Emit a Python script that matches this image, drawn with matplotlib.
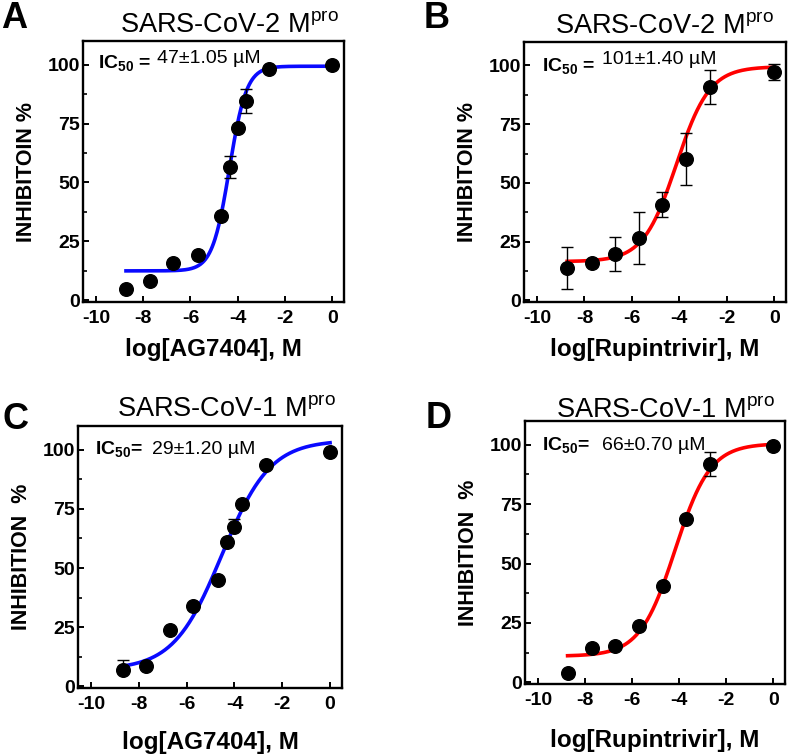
import numpy as np
import matplotlib
matplotlib.use('Agg')
import matplotlib.pyplot as plt
from matplotlib.ticker import MultipleLocator

plt.rcParams['font.family'] = ['Liberation Sans', 'DejaVu Sans']
plt.rcParams['mathtext.default'] = 'regular'
plt.rcParams['axes.unicode_minus'] = False

# --------------------------------------------------
# Data (log concentration, % inhibition, SD)
# --------------------------------------------------
ag_logc_cov2 = [-8.73, -7.71, -6.72, -5.69, -4.70, -4.31, -4.00, -3.67, -2.68, 0.0]
ag_inh_cov2 = [5.0, 8.1, 16.0, 19.4, 35.7, 56.5, 73.0, 84.7, 98.3, 99.7]
ag_err_cov2 = [0, 0, 0, 0, 0, 4.6, 0, 5.1, 0, 0]

rup_logc_cov2 = [-8.73, -7.69, -6.73, -5.68, -4.72, -3.70, -2.70, 0.0]
rup_inh_cov2 = [13.9, 16.0, 19.9, 26.6, 40.7, 60.1, 90.9, 97.3]
rup_err_cov2 = [9.0, 0, 7.2, 11.0, 5.3, 11.1, 7.2, 3.3]

ag_logc_cov1 = [-8.68, -7.72, -6.70, -5.72, -4.70, -4.31, -4.00, -3.69, -2.67, 0.0]
ag_inh_cov1 = [6.8, 8.7, 23.7, 34.1, 45.1, 60.8, 67.3, 77.2, 93.7, 98.9]
ag_err_cov1_up = [4.5, 0, 0, 0, 0, 0, 3.5, 0, 0, 0]

rup_logc_cov1 = [-8.74, -7.70, -6.71, -5.69, -4.70, -3.69, -2.67, 0.0]
rup_inh_cov1 = [3.8, 14.4, 15.5, 23.7, 40.6, 68.6, 92.0, 99.3]
rup_err_cov1 = [0, 0, 0, 0, 0, 0, 5.0, 0]

# 4PL fit parameters (bottom, top, logIC50, hill) estimated from the curves
fit_a = (12.5, 99.3, -4.35, 1.2)
fit_b = (16.5, 99.5, -4.12, 0.62)
fit_c = (7.0, 104.0, -4.53, 0.43)
fit_d = (11.0, 100.5, -4.17, 0.58)

W, H = 790, 756


def px(x, y):
    # pixel position (from top-left) -> figure fraction
    return x / W, 1 - y / H


def four_pl(x, p):
    bottom, top, logic50, hill = p
    return bottom + (top - bottom) / (1 + 10 ** ((logic50 - x) * hill))


def panel(rect, logc, inh, err, fit, color, xlabel, ylabel, xpad=8):
    left, top, right, bottom = rect
    ax = fig.add_axes([left / W, 1 - bottom / H, (right - left) / W, (bottom - top) / H])
    xs = np.linspace(logc[0], 0, 300)
    ax.plot(xs, four_pl(xs, fit), color=color, lw=2.6, zorder=2)
    ax.errorbar(logc, inh, yerr=err, fmt='none', ecolor='black', elinewidth=1.0,
                capsize=4.3, capthick=1.0, zorder=3)
    ax.plot(logc, inh, 'o', color='black', ms=9.8, zorder=4)
    ax.set_xlim(-10.55, 0.5)
    ax.set_ylim(-0.7, 110)
    ax.set_xticks([-10, -8, -6, -4, -2, 0])
    ax.set_yticks([0, 25, 50, 75, 100])
    ax.yaxis.set_minor_locator(MultipleLocator(12.5))
    ax.tick_params(direction='in', length=4, width=1.4, labelsize=14, pad=2)
    ax.tick_params(axis='x', pad=6)
    ax.tick_params(axis='y', which='minor', direction='in', length=3, width=1.2)
    for lab in ax.get_xticklabels() + ax.get_yticklabels():
        lab.set_fontweight('bold')
    for sp in ax.spines.values():
        sp.set_linewidth(1.7)
    ax.set_xlabel(xlabel, fontsize=17.5, fontweight='bold', labelpad=xpad)
    ax.set_ylabel(ylabel, fontsize=15.5, fontweight='bold', labelpad=8)
    return ax


fig = plt.figure(figsize=(7.9, 7.56), dpi=100)

panel((83, 41, 344, 302), ag_logc_cov2, ag_inh_cov2, ag_err_cov2, fit_a,
      '#0a0aff', 'log[AG7404], M', 'INHIBITOIN %')
panel((524, 42, 786, 302), rup_logc_cov2, rup_inh_cov2, rup_err_cov2, fit_b,
      '#ff0000', 'log[Rupintrivir], M', 'INHIBITOIN %')
panel((78, 426, 342, 688), ag_logc_cov1, ag_inh_cov1,
      [[0] * len(ag_err_cov1_up), ag_err_cov1_up], fit_c,
      '#0a0aff', 'log[AG7404], M', 'INHIBITION  %', xpad=13)
panel((525, 421, 785, 684), rup_logc_cov1, rup_inh_cov1, rup_err_cov1, fit_d,
      '#ff0000', 'log[Rupintrivir], M', 'INHIBITION  %', xpad=14)

# panel letters
for letter, (x, y) in zip('ABCD', [(1, 28), (424, 28), (2, 429), (426, 428)]):
    fig.text(*px(x, y), letter, fontsize=26, fontweight='bold', va='baseline', ha='left')

# titles
titles = ['SARS-CoV-2 M$^{pro}$', 'SARS-CoV-2 M$^{pro}$',
          'SARS-CoV-1 M$^{pro}$', 'SARS-CoV-1 M$^{pro}$']
title_pos = [(229, 32), (664, 33), (226, 416), (665, 417)]
for t, (x, y) in zip(titles, title_pos):
    fig.text(*px(x, y), t, fontsize=19.5, ha='center', va='baseline')

# IC50 annotations
ic_labels = ['IC$_{50}$ =', 'IC$_{50}$ =', 'IC$_{50}$=', 'IC$_{50}$=']
ic_pos = [(98, 68), (542, 71), (95, 454), (542, 450)]
ic_values = ['47±1.05 µM', '101±1.40 µM', '29±1.20 µM', '66±0.70 µM']
val_pos = [(157, 63), (602, 64), (152, 454), (602, 450)]
for lab, (x, y), val, (vx, vy) in zip(ic_labels, ic_pos, ic_values, val_pos):
    fig.text(*px(x, y), lab, fontsize=14, fontweight='bold', va='baseline')
    fig.text(*px(vx, vy), val, fontsize=14, va='baseline')

fig.savefig('out.png', dpi=100)
